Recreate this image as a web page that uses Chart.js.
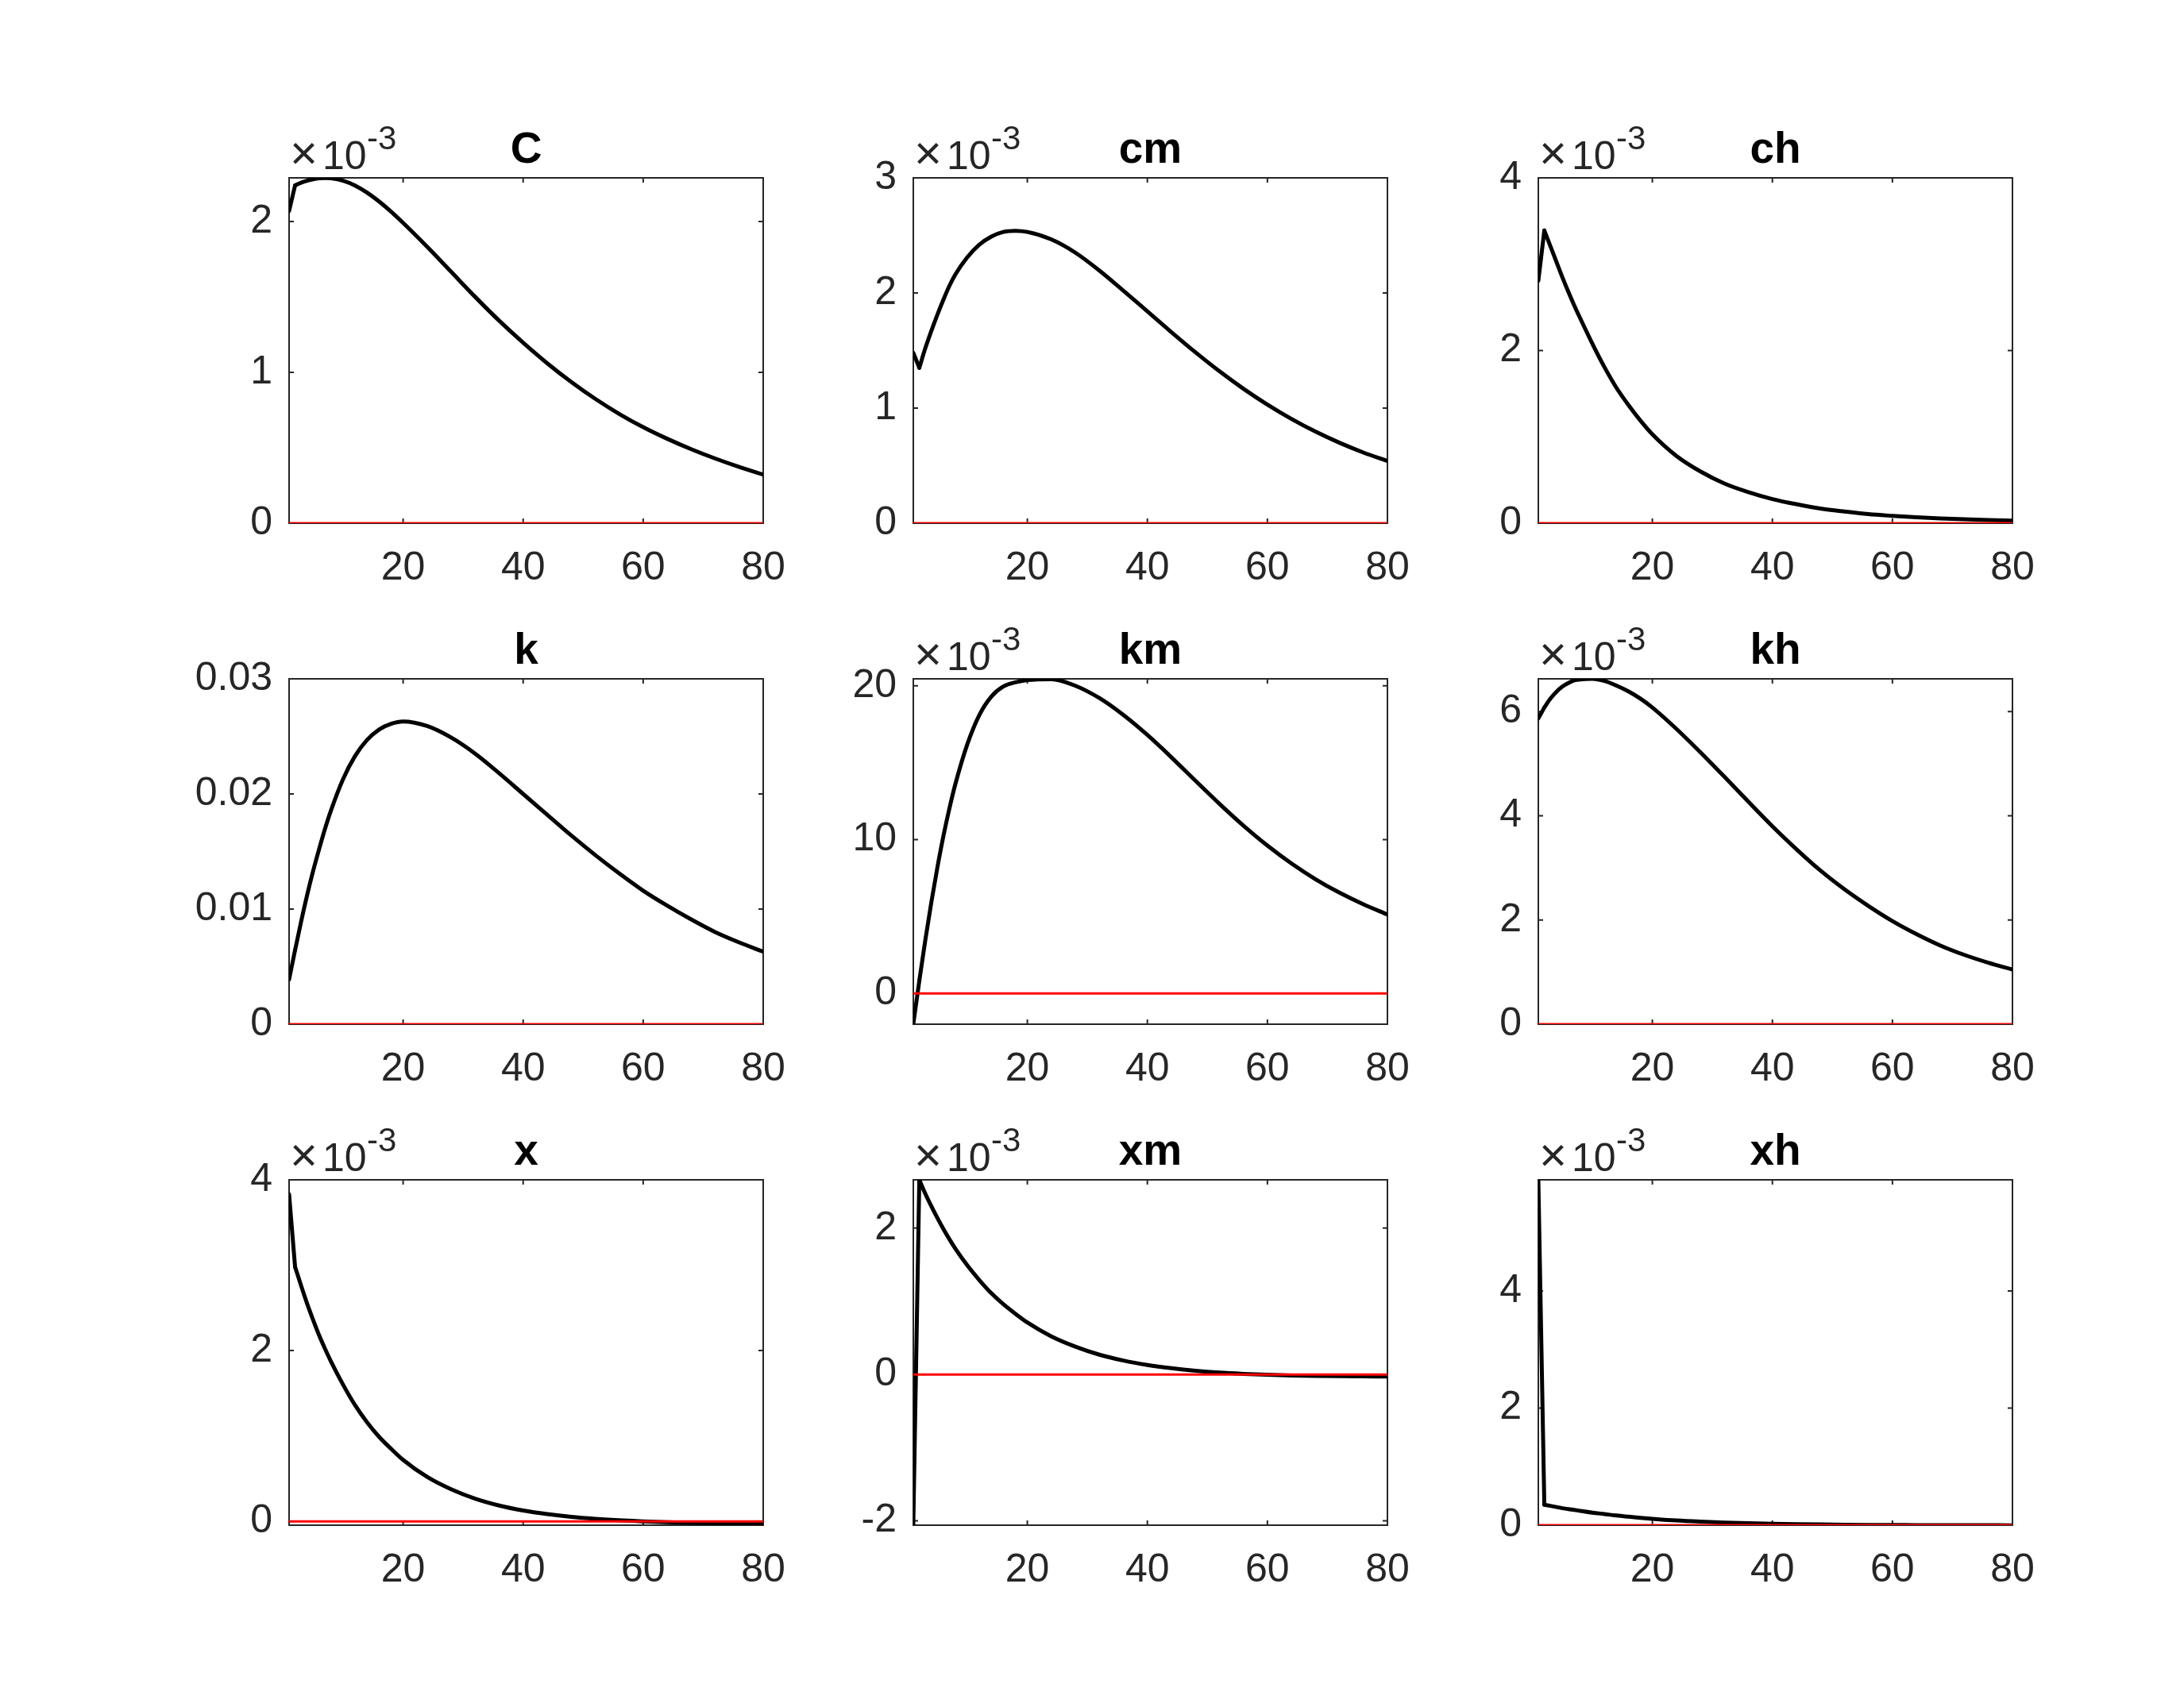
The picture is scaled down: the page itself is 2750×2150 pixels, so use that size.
<!DOCTYPE html>
<html>
<head>
<meta charset="utf-8">
<style>
    body {
        margin: 0;
        background: #ffffff;
        width: 2750px;
        height: 2150px;
        position: relative;
        overflow: hidden;
    }

    .panel {
        position: absolute;
    }
</style>
<script src="https://cdn.jsdelivr.net/npm/chart.js@4.4.1/dist/chart.umd.min.js"></script>
</head>
<body>

<script>
    // ---- data (y values in the units shown on each axis) ----
    var periods = [1, 2, 3, 4, 5, 6, 7, 8, 10, 12, 14, 16, 18, 20, 24, 28, 32, 36, 40, 44, 48, 52, 56, 60, 64, 68, 72, 76, 80];
    var zeroLine = [0, 0, 0, 0, 0, 0, 0, 0, 0, 0, 0, 0, 0, 0, 0, 0, 0, 0, 0, 0, 0, 0, 0, 0, 0, 0, 0, 0, 0];

    var cSeries = [2.07, 2.24, 2.258, 2.271, 2.281, 2.287, 2.289, 2.287, 2.271, 2.239, 2.192, 2.133, 2.065, 1.991, 1.833, 1.667, 1.501, 1.343, 1.197, 1.061, 0.937, 0.825, 0.725, 0.637, 0.56, 0.491, 0.429, 0.373, 0.322];
    var cmSeries = [1.48, 1.35, 1.52, 1.67, 1.81, 1.94, 2.06, 2.16, 2.31, 2.42, 2.49, 2.53, 2.54, 2.53, 2.465, 2.35, 2.195, 2.02, 1.84, 1.66, 1.485, 1.32, 1.168, 1.03, 0.906, 0.796, 0.699, 0.614, 0.54];
    var chSeries = [2.81, 3.39, 3.21, 3.03, 2.85, 2.68, 2.52, 2.37, 2.08, 1.81, 1.57, 1.37, 1.19, 1.03, 0.78, 0.60, 0.46, 0.36, 0.28, 0.22, 0.17, 0.135, 0.105, 0.085, 0.068, 0.055, 0.045, 0.037, 0.03];
    var kSeries = [0.00388, 0.00644, 0.0089, 0.0112, 0.0133, 0.0152, 0.0170, 0.0186, 0.0213, 0.0233, 0.0247, 0.0256, 0.0261, 0.0263, 0.0259, 0.0249, 0.0235, 0.0218, 0.0200, 0.0182, 0.0164, 0.0147, 0.0131, 0.0116, 0.0103, 0.0091, 0.0080, 0.0071, 0.0063];
    var kmSeries = [-1.98, 0.82, 3.47, 5.92, 8.16, 10.2, 12.0, 13.6, 16.2, 18.1, 19.3, 19.95, 20.22, 20.37, 20.43, 20.0, 19.2, 18.1, 16.8, 15.35, 13.83, 12.33, 10.91, 9.61, 8.45, 7.43, 6.55, 5.79, 5.13];
    var khSeries = [5.87, 6.08, 6.25, 6.38, 6.48, 6.55, 6.60, 6.62, 6.63, 6.59, 6.50, 6.39, 6.25, 6.08, 5.67, 5.22, 4.75, 4.27, 3.80, 3.36, 2.95, 2.59, 2.27, 1.98, 1.73, 1.51, 1.33, 1.18, 1.05];
    var xSeries = [3.83, 2.98, 2.76, 2.55, 2.36, 2.18, 2.02, 1.87, 1.60, 1.36, 1.16, 0.99, 0.85, 0.72, 0.52, 0.375, 0.265, 0.185, 0.127, 0.085, 0.053, 0.03, 0.012, 0.0, -0.01, -0.017, -0.022, -0.026, -0.029];
    var xmSeries = [-2.05, 2.66, 2.47, 2.30, 2.14, 1.99, 1.85, 1.72, 1.49, 1.29, 1.11, 0.96, 0.83, 0.71, 0.52, 0.38, 0.27, 0.19, 0.13, 0.085, 0.05, 0.025, 0.008, -0.005, -0.014, -0.02, -0.024, -0.026, -0.028];
    var xhSeries = [5.9, 0.35, 0.33, 0.31, 0.29, 0.275, 0.26, 0.245, 0.215, 0.19, 0.165, 0.145, 0.127, 0.11, 0.08, 0.06, 0.045, 0.033, 0.024, 0.017, 0.012, 0.008, 0.005, 0.003, 0.001, 0, -0.001, -0.001, -0.002];

    var panelTitles = ['C', 'cm', 'ch', 'k', 'km', 'kh', 'x', 'xm', 'xh'];
    var panelSeries = [cSeries, cmSeries, chSeries, kSeries, kmSeries, khSeries, xSeries, xmSeries, xhSeries];
    var yLimits = [[0, 2.29], [0, 3], [0, 4], [0, 0.03], [-2.0, 20.45], [0, 6.63], [-0.045, 4], [-2.06, 2.66], [0, 5.9]];
    var yTickValues = [[0, 1, 2], [0, 1, 2, 3], [0, 2, 4], [0, 0.01, 0.02, 0.03], [0, 10, 20], [0, 2, 4, 6], [0, 2, 4], [-2, 0, 2], [0, 2, 4]];
    var yTickLabels = [['0', '1', '2'], ['0', '1', '2', '3'], ['0', '2', '4'], ['0', '0.01', '0.02', '0.03'], ['0', '10', '20'], ['0', '2', '4', '6'], ['0', '2', '4'], ['-2', '0', '2'], ['0', '2', '4']];
    var exponents = ['-3', '-3', '-3', '', '-3', '-3', '-3', '-3', '-3'];
    var xTickValues = [20, 40, 60, 80];
    var xTickLabels = ['20', '40', '60', '80'];

    // ---- layout (pixels) ----
    var COL_LEFT = [364, 1150, 1937];
    var ROW_TOP = [224, 855, 1486];
    var PLOT_W = 597;
    var PLOT_H = 435;
    var PAD_L = 220, PAD_T = 130, PAD_R = 80, PAD_B = 110;

    var FONT = '"Liberation Sans", Arial, Helvetica, sans-serif';
    var AXIS_COLOR = '#262626';
    var TICK_LEN = 6;

    // box, inward ticks, title and the x10^n note, matlab style
    var matlabAxes = {
        id: 'matlabAxes',
        beforeDatasetsDraw: function (chart) {
            var ctx = chart.ctx;
            var a = chart.chartArea;
            var sx = chart.scales.x;
            var sy = chart.scales.y;
            ctx.save();
            ctx.strokeStyle = AXIS_COLOR;
            ctx.lineWidth = 2;
            ctx.strokeRect(a.left, a.top, a.right - a.left, a.bottom - a.top);
            ctx.beginPath();
            sx.ticks.forEach(function (t) {
                var px = sx.getPixelForValue(t.value);
                ctx.moveTo(px, a.bottom);
                ctx.lineTo(px, a.bottom - TICK_LEN);
                ctx.moveTo(px, a.top);
                ctx.lineTo(px, a.top + TICK_LEN);
            });
            sy.ticks.forEach(function (t) {
                var py = sy.getPixelForValue(t.value);
                ctx.moveTo(a.left, py);
                ctx.lineTo(a.left + TICK_LEN, py);
                ctx.moveTo(a.right, py);
                ctx.lineTo(a.right - TICK_LEN, py);
            });
            ctx.stroke();
            ctx.restore();
        },
        afterDraw: function (chart, args, opts) {
            var ctx = chart.ctx;
            var a = chart.chartArea;
            ctx.save();
            ctx.fillStyle = '#000000';
            ctx.font = 'bold 55px ' + FONT;
            ctx.textAlign = 'center';
            ctx.textBaseline = 'alphabetic';
            ctx.fillText(opts.title, (a.left + a.right) / 2, a.top - 19);

            if (opts.exponent) {
                ctx.fillStyle = AXIS_COLOR;
                ctx.textAlign = 'left';
                ctx.font = '60px ' + FONT;
                ctx.fillText('\u00d7', a.left + 1, a.top - 11);
                ctx.font = '50px ' + FONT;
                ctx.fillText('10', a.left + 42, a.top - 11);
                ctx.font = '42px ' + FONT;
                ctx.fillText(opts.exponent, a.left + 98, a.top - 36);
            }
            ctx.restore();
        }
    };

    function makePanel(i) {
        var col = i % 3;
        var row = Math.floor(i / 3);
        var cw = PAD_L + PLOT_W + PAD_R;
        var ch = PAD_T + PLOT_H + PAD_B;

        var canvas = document.createElement('canvas');
        canvas.className = 'panel';
        canvas.width = cw;
        canvas.height = ch;
        canvas.style.left = (COL_LEFT[col] - PAD_L) + 'px';
        canvas.style.top = (ROW_TOP[row] - PAD_T) + 'px';
        canvas.style.width = cw + 'px';
        canvas.style.height = ch + 'px';
        document.body.appendChild(canvas);

        var values = panelSeries[i];
        var curve = periods.map(function (p, j) { return { x: p, y: values[j] }; });
        var zero = periods.map(function (p, j) { return { x: p, y: zeroLine[j] }; });

        // the impact period is a straight jump; the rest is drawn smooth
        var lineStyle = {
            borderColor: '#000000',
            borderWidth: 5,
            pointRadius: 0,
            fill: false,
            borderJoinStyle: 'round',
            borderCapStyle: 'round'
        };

        new Chart(canvas.getContext('2d'), {
            type: 'line',
            data: {
                datasets: [
                    {
                        label: 'steady state',
                        data: zero,
                        borderColor: '#ff0000',
                        borderWidth: 3,
                        pointRadius: 0,
                        fill: false
                    },
                    Object.assign({ label: panelTitles[i] + ' impact', data: curve.slice(0, 2), tension: 0 }, lineStyle),
                    Object.assign({ label: panelTitles[i], data: curve.slice(1), cubicInterpolationMode: 'monotone' }, lineStyle)
                ]
            },
            options: {
                responsive: false,
                animation: false,
                devicePixelRatio: 1,
                layout: { padding: { left: 0, top: PAD_T, right: PAD_R, bottom: 0 } },
                plugins: {
                    legend: { display: false },
                    tooltip: { enabled: false },
                    matlabAxes: { title: panelTitles[i], exponent: exponents[i] }
                },
                scales: {
                    x: {
                        type: 'linear',
                        min: 1,
                        max: 80,
                        grid: { display: false, drawTicks: false },
                        border: { display: false },
                        afterBuildTicks: function (s) {
                            s.ticks = xTickValues.map(function (v) { return { value: v }; });
                        },
                        afterFit: function (s) { s.height = PAD_B; },
                        ticks: {
                            autoSkip: false,
                            maxRotation: 0,
                            padding: 27,
                            color: AXIS_COLOR,
                            font: { family: FONT, size: 50 },
                            callback: function (v) {
                                var k = xTickValues.indexOf(v);
                                return k >= 0 ? xTickLabels[k] : '';
                            }
                        }
                    },
                    y: {
                        type: 'linear',
                        min: yLimits[i][0],
                        max: yLimits[i][1],
                        grid: { display: false, drawTicks: false },
                        border: { display: false },
                        afterBuildTicks: function (s) {
                            s.ticks = yTickValues[i].map(function (v) { return { value: v }; });
                        },
                        afterFit: function (s) { s.width = PAD_L; },
                        ticks: {
                            autoSkip: false,
                            padding: 21,
                            color: AXIS_COLOR,
                            font: { family: FONT, size: 50 },
                            callback: function (v) {
                                var k = yTickValues[i].indexOf(v);
                                return k >= 0 ? yTickLabels[i][k] : '';
                            }
                        }
                    }
                }
            },
            plugins: [matlabAxes]
        });
    }

    for (var p = 0; p < 9; p++) {
        makePanel(p);
    }
</script>
</body>
</html>
